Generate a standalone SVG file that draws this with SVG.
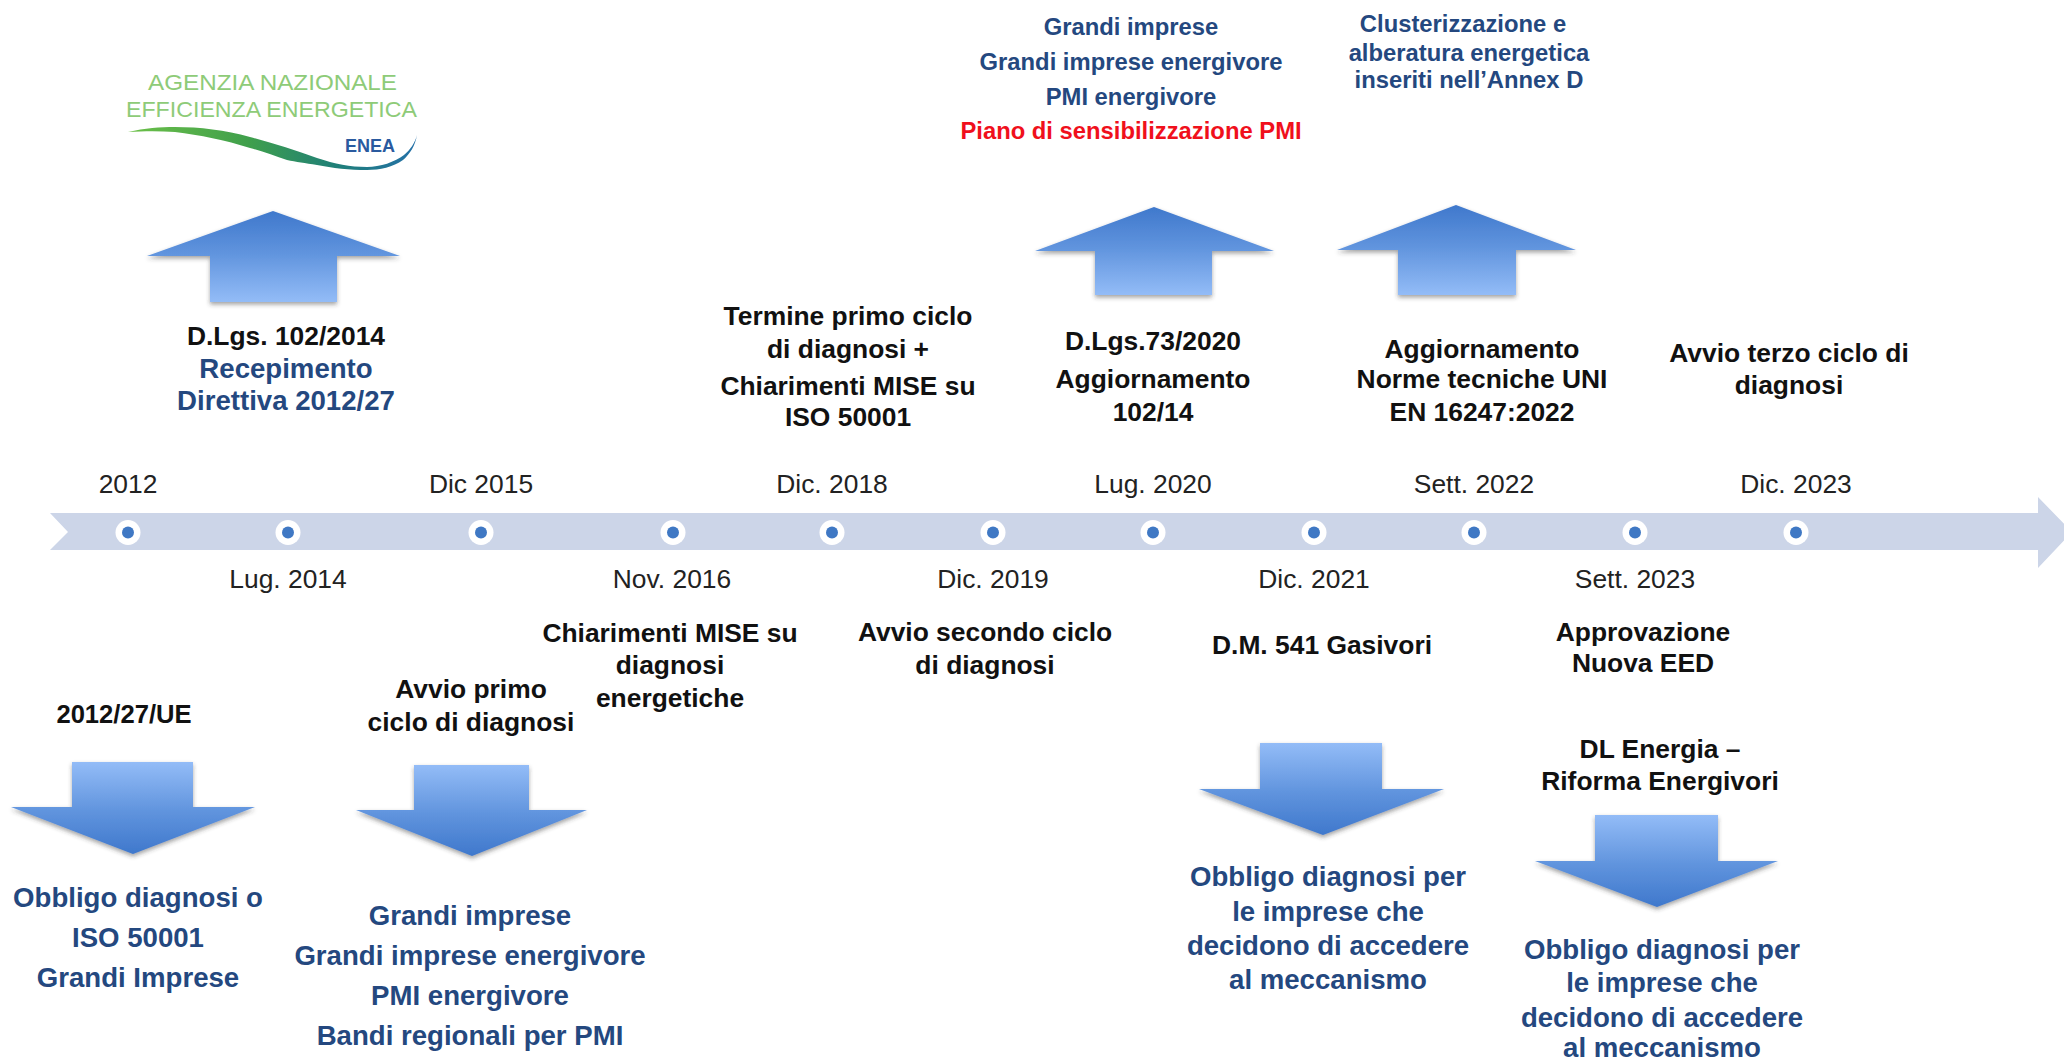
<svg xmlns="http://www.w3.org/2000/svg" width="2064" height="1061" viewBox="0 0 2064 1061">
<style>
text{font-family:"Liberation Sans",Arial,sans-serif;text-anchor:middle}
.d{font-size:26.4px;fill:#222}
.k{font-size:26.4px;font-weight:bold;fill:#111}
.b{font-size:27.6px;font-weight:bold;fill:#24487f}
.s{font-size:23.8px;font-weight:bold;fill:#24487f}
.r{font-size:23.8px;font-weight:bold;fill:#f0101c}
.lg{font-size:21.5px;fill:#8ecb78}
.up{fill:url(#gu);filter:url(#sh)}
.dn{fill:url(#gd);filter:url(#sh)}
.halo{fill:#fff}
.dot{fill:#3f78c4}
</style>
<defs>
<linearGradient id="gu" x1="0" y1="0" x2="0" y2="1"><stop offset="0" stop-color="#3f78cc"/><stop offset="0.45" stop-color="#5f93dd"/><stop offset="1" stop-color="#93bcf7"/></linearGradient>
<linearGradient id="gd" x1="0" y1="1" x2="0" y2="0"><stop offset="0" stop-color="#3f78cc"/><stop offset="0.45" stop-color="#5f93dd"/><stop offset="1" stop-color="#93bcf7"/></linearGradient>
<linearGradient id="sw" x1="0" y1="0" x2="1" y2="0"><stop offset="0" stop-color="#6cc048"/><stop offset="0.42" stop-color="#3f9f4c"/><stop offset="0.72" stop-color="#1f7f78"/><stop offset="1" stop-color="#2470a8"/></linearGradient>
<filter id="sh" x="-10%" y="-10%" width="120%" height="125%"><feDropShadow dx="0" dy="2.5" stdDeviation="2" flood-color="#333" flood-opacity="0.45"/></filter>
</defs>
<rect width="2064" height="1061" fill="#fff"/>

<g id="logo">
<text class="lg" x="272.5" y="90" textLength="249" lengthAdjust="spacingAndGlyphs">AGENZIA NAZIONALE</text>
<text class="lg" x="271.5" y="117" textLength="291" lengthAdjust="spacingAndGlyphs">EFFICIENZA ENERGETICA</text>
<path d="M128 132C145 128 160 127 175 127C200 127 225 130 250 137C272 143 295 150 317 158C335 164 350 167 367 167C380 167 395 162 404 155C410 150 415 143 417 135C415 146 410 154 403 160C393 167 380 170 367 170C350 170 332 168 317 165C305 163 296 162 287 160C275 156 262 151 250 148C225 140 200 135 175 132C160 131 145 131 128 132Z" fill="url(#sw)"/>
<text x="370" y="152" textLength="50" lengthAdjust="spacingAndGlyphs" style="font-size:18px;font-weight:bold;fill:#2a5a9f">ENEA</text>
</g>

<g id="timeline">
<polygon points="50,513 2038,513 2038,497 2072,532 2038,568 2038,550 50,550 68,532" fill="#ccd5e8"/>
</g>

<g id="connectors">
<polygon class="up" points="273,211 400,256 337,256 337,302 210,302 210,256 147,256"/>
<polygon class="up" points="1154,207 1274,251 1212,251 1212,295 1095,295 1095,251 1035,251"/>
<polygon class="up" points="1456,205 1576,250 1516,250 1516,295 1398,295 1398,250 1337,250"/>
<polygon class="dn" points="72,762 193,762 193,807 255,807 133,854 11,807 72,807"/>
<polygon class="dn" points="414,765 529,765 529,810 587,810 472,856 356,810 414,810"/>
<polygon class="dn" points="1260,743 1382,743 1382,789 1444,789 1323,835 1199,789 1260,789"/>
<polygon class="dn" points="1595,815 1718,815 1718,861 1778,861 1657,907 1535,861 1595,861"/>
</g>

<g id="n2012"><circle class="halo" cx="128" cy="532.5" r="12.5"/><circle class="dot" cx="128" cy="532.5" r="6"/><text class="d" x="128" y="493">2012</text>
<text class="k" x="124" y="723" style="font-size:25.6px">2012/27/UE</text>
<text class="b" x="138" y="907">Obbligo diagnosi o</text><text class="b" x="138" y="947">ISO 50001</text><text class="b" x="138" y="987">Grandi Imprese</text></g>

<g id="n2014"><circle class="halo" cx="288" cy="532.5" r="12.5"/><circle class="dot" cx="288" cy="532.5" r="6"/><text class="d" x="288" y="588">Lug. 2014</text>
<text class="k" x="286" y="345">D.Lgs. 102/2014</text><text class="b" x="286" y="378">Recepimento</text><text class="b" x="286" y="410">Direttiva 2012/27</text></g>

<g id="n2015"><circle class="halo" cx="481" cy="532.5" r="12.5"/><circle class="dot" cx="481" cy="532.5" r="6"/><text class="d" x="481" y="493">Dic 2015</text>
<text class="k" x="471" y="698">Avvio primo</text><text class="k" x="471" y="731">ciclo di diagnosi</text>
<text class="b" x="470" y="925">Grandi imprese</text><text class="b" x="470" y="965">Grandi imprese energivore</text><text class="b" x="470" y="1005">PMI energivore</text><text class="b" x="470" y="1045">Bandi regionali per PMI</text></g>

<g id="n2016"><circle class="halo" cx="673" cy="532.5" r="12.5"/><circle class="dot" cx="673" cy="532.5" r="6"/><text class="d" x="672" y="588">Nov. 2016</text>
<text class="k" x="670" y="642">Chiarimenti MISE su</text><text class="k" x="670" y="674">diagnosi</text><text class="k" x="670" y="707">energetiche</text></g>

<g id="n2018"><circle class="halo" cx="832" cy="532.5" r="12.5"/><circle class="dot" cx="832" cy="532.5" r="6"/><text class="d" x="832" y="493">Dic. 2018</text>
<text class="k" x="848" y="325">Termine primo ciclo</text><text class="k" x="848" y="358">di diagnosi +</text><text class="k" x="848" y="395">Chiarimenti MISE su</text><text class="k" x="848" y="426">ISO 50001</text></g>

<g id="n2019"><circle class="halo" cx="993" cy="532.5" r="12.5"/><circle class="dot" cx="993" cy="532.5" r="6"/><text class="d" x="993" y="588">Dic. 2019</text>
<text class="k" x="985" y="641">Avvio secondo ciclo</text><text class="k" x="985" y="674">di diagnosi</text></g>

<g id="n2020"><circle class="halo" cx="1153" cy="532.5" r="12.5"/><circle class="dot" cx="1153" cy="532.5" r="6"/><text class="d" x="1153" y="493">Lug. 2020</text>
<text class="k" x="1153" y="350">D.Lgs.73/2020</text><text class="k" x="1153" y="388">Aggiornamento</text><text class="k" x="1153" y="421">102/14</text>
<text class="s" x="1131" y="35">Grandi imprese</text><text class="s" x="1131" y="70">Grandi imprese energivore</text><text class="s" x="1131" y="105">PMI energivore</text><text class="r" x="1131" y="139">Piano di sensibilizzazione PMI</text></g>

<g id="n2021"><circle class="halo" cx="1314" cy="532.5" r="12.5"/><circle class="dot" cx="1314" cy="532.5" r="6"/><text class="d" x="1314" y="588">Dic. 2021</text>
<text class="k" x="1322" y="654">D.M. 541 Gasivori</text>
<text class="b" x="1328" y="886">Obbligo diagnosi per</text><text class="b" x="1328" y="921">le imprese che</text><text class="b" x="1328" y="955">decidono di accedere</text><text class="b" x="1328" y="989">al meccanismo</text></g>

<g id="n2022"><circle class="halo" cx="1474" cy="532.5" r="12.5"/><circle class="dot" cx="1474" cy="532.5" r="6"/><text class="d" x="1474" y="493">Sett. 2022</text>
<text class="k" x="1482" y="358">Aggiornamento</text><text class="k" x="1482" y="388">Norme tecniche UNI</text><text class="k" x="1482" y="421">EN 16247:2022</text>
<text class="s" x="1463" y="32">Clusterizzazione e</text><text class="s" x="1469" y="61">alberatura energetica</text><text class="s" x="1469" y="88">inseriti nell’Annex D</text></g>

<g id="n2023a"><circle class="halo" cx="1635" cy="532.5" r="12.5"/><circle class="dot" cx="1635" cy="532.5" r="6"/><text class="d" x="1635" y="588">Sett. 2023</text>
<text class="k" x="1643" y="641">Approvazione</text><text class="k" x="1643" y="672">Nuova EED</text>
<text class="k" x="1660" y="758">DL Energia –</text><text class="k" x="1660" y="790">Riforma Energivori</text>
<text class="b" x="1662" y="959">Obbligo diagnosi per</text><text class="b" x="1662" y="992">le imprese che</text><text class="b" x="1662" y="1027">decidono di accedere</text><text class="b" x="1662" y="1057">al meccanismo</text></g>

<g id="n2023b"><circle class="halo" cx="1796" cy="532.5" r="12.5"/><circle class="dot" cx="1796" cy="532.5" r="6"/><text class="d" x="1796" y="493">Dic. 2023</text>
<text class="k" x="1789" y="362">Avvio terzo ciclo di</text><text class="k" x="1789" y="394">diagnosi</text></g>
</svg>
